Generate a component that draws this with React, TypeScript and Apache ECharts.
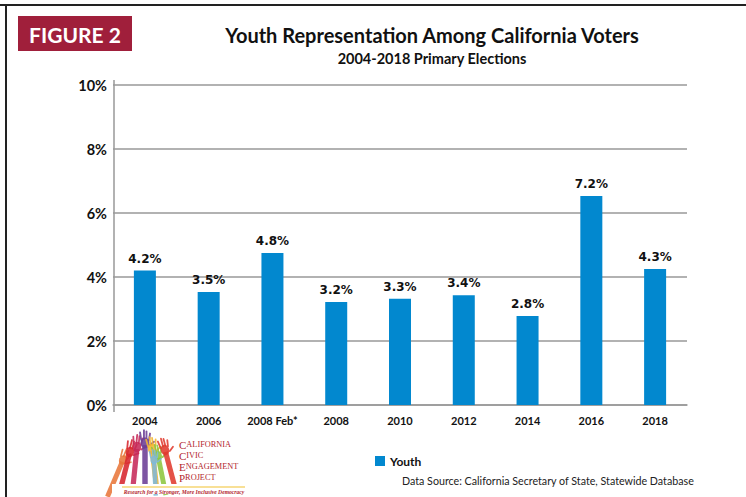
import React, { useEffect, useRef } from "react";
import * as echarts from "echarts";

const categories = ["2004", "2006", "2008 Feb*", "2008", "2010", "2012", "2014", "2016", "2018"];
const youthValues = [4.2, 3.53, 4.75, 3.22, 3.32, 3.43, 2.78, 6.53, 4.25];
const youthLabels = ["4.2%", "3.5%", "4.8%", "3.2%", "3.3%", "3.4%", "2.8%", "7.2%", "4.3%"];
const yTicks = [0, 2, 4, 6, 8, 10];
const logoWords = ["CALIFORNIA", "CIVIC", "ENGAGEMENT", "PROJECT"];

const FONT = "Lato, 'Open Sans', sans-serif";
const LABEL_FONT = "'DejaVu Sans', Verdana, sans-serif";
const BLUE = "#0288CF";

function hand(x: number, y: number, rot: number, color: string, s: number) {
  const st = { fill: color, opacity: 0.88 };
  return {
    type: "group",
    x,
    y,
    rotation: rot,
    scaleX: s,
    scaleY: s,
    silent: true,
    children: [
      { type: "rect", shape: { x: -2.6, y: 2, width: 5.2, height: 40 }, style: st },
      { type: "ellipse", shape: { cx: 0, cy: 0, rx: 4.2, ry: 5.2 }, style: st },
      { type: "rect", shape: { x: -4.4, y: -11, width: 1.8, height: 9, r: 0.9 }, rotation: 0.15, originX: -3.5, originY: -2, style: st },
      { type: "rect", shape: { x: -1.9, y: -13, width: 1.8, height: 10, r: 0.9 }, style: st },
      { type: "rect", shape: { x: 0.5, y: -12, width: 1.8, height: 9, r: 0.9 }, style: st },
      { type: "rect", shape: { x: 2.8, y: -10, width: 1.8, height: 8, r: 0.9 }, rotation: -0.15, originX: 3.5, originY: -2, style: st },
      { type: "rect", shape: { x: 3.2, y: -5, width: 1.8, height: 7, r: 0.9 }, rotation: -0.9, originX: 3.2, originY: 2, style: st },
    ],
  };
}

export default function App() {
  const ref = useRef<HTMLDivElement>(null);
  useEffect(() => {
    if (!ref.current) return;
    const chart = echarts.init(ref.current, undefined, { renderer: "svg" });
    const logoRed = "#B3262D";
    chart.setOption({
      animation: false,
      backgroundColor: "#ffffff",
      grid: { left: 113, right: 59, top: 85, bottom: 92 },
      legend: {
        data: ["Youth"],
        left: 370,
        top: 450,
        icon: "rect",
        itemWidth: 10,
        itemHeight: 10,
        itemGap: 6,
        textStyle: { fontFamily: FONT, fontWeight: "bold", fontSize: 12, color: "#111" },
      },
      xAxis: {
        type: "category",
        data: categories,
        axisLine: { show: true, lineStyle: { color: "#999", width: 1.5 } },
        axisTick: { show: false },
        axisLabel: { interval: 0, fontFamily: FONT, fontWeight: "bold", fontSize: 11, color: "#111", margin: 10 },
      },
      yAxis: {
        type: "value",
        min: yTicks[0],
        max: yTicks[yTicks.length - 1],
        interval: 2,
        axisLine: { show: false },
        axisTick: { show: false },
        splitLine: { show: true, lineStyle: { color: "#999", width: 1.5 } },
        axisLabel: {
          formatter: "{value}%",
          fontFamily: FONT,
          fontWeight: "bold",
          fontSize: 14.5,
          color: "#111",
          margin: 6,
        },
      },
      series: [
        {
          name: "Youth",
          type: "bar",
          data: youthValues,
          barWidth: 22,
          itemStyle: { color: BLUE },
          label: {
            show: true,
            position: "top",
            distance: 6,
            formatter: (p: any) => youthLabels[p.dataIndex],
            fontFamily: LABEL_FONT,
            fontWeight: "bold",
            fontSize: 12,
            color: "#111",
          },
        },
      ],
      graphic: [
        { type: "line", shape: { x1: 0, y1: 5, x2: 746, y2: 5 }, style: { stroke: "#222", lineWidth: 2 } },
        { type: "line", shape: { x1: 6, y1: 5, x2: 6, y2: 497 }, style: { stroke: "#222", lineWidth: 2 } },
        { type: "line", shape: { x1: 114, y1: 80, x2: 114, y2: 412 }, style: { stroke: "#999", lineWidth: 1.5 } },
        { type: "rect", shape: { x: 18, y: 16, width: 114, height: 35 }, style: { fill: "#A01F3B" } },
        {
          type: "text",
          x: 75,
          y: 34,
          style: { text: "FIGURE 2", fill: "#fff", font: `bold 21px ${FONT}`, align: "center", verticalAlign: "middle" },
        },
        {
          type: "text",
          x: 432,
          y: 35,
          style: { text: "Youth Representation Among California Voters", fill: "#111", font: `bold 20px ${FONT}`, align: "center", verticalAlign: "middle" },
        },
        {
          type: "text",
          x: 432,
          y: 58,
          style: { text: "2004-2018 Primary Elections", fill: "#111", font: `bold 14.5px ${FONT}`, align: "center", verticalAlign: "middle" },
        },
        {
          type: "text",
          x: 402,
          y: 480,
          style: { text: "Data Source: California Secretary of State, Statewide Database", fill: "#222", font: `10.7px ${FONT}`, align: "left", verticalAlign: "middle" },
        },
        // logo hands
        hand(123, 460, -0.4, "#E8763A", 0.95),
        hand(130, 452, -0.25, "#D7262E", 1.0),
        hand(137, 447, -0.1, "#C62A5A", 1.0),
        hand(145, 443, 0.0, "#6B3E95", 1.05),
        hand(152, 449, 0.12, "#F2B531", 1.0),
        hand(158, 456, 0.2, "#8DC63F", 0.95),
        hand(154, 460, 0.05, "#7FB8D8", 0.85),
        hand(165, 450, 0.26, "#E03A2E", 1.0),
        { type: "rect", shape: { x: 112, y: 484, width: 70, height: 10 }, style: { fill: "#fff" } },
        { type: "line", shape: { x1: 122, y1: 487, x2: 245, y2: 487 }, style: { stroke: "#F2C12E", lineWidth: 1.2 } },
        {
          type: "text",
          x: 184,
          y: 492,
          style: { text: "Research for a Stronger, More Inclusive Democracy", fill: logoRed, font: "italic bold 5.6px 'Liberation Serif', serif", align: "center", verticalAlign: "middle" },
        },
        ...logoWords.map((w, i) => ({
          type: "text",
          x: 179,
          y: 449 + i * 11,
          style: {
            text: `{b|${w[0]}}{s|${w.slice(1)}}`,
            verticalAlign: "bottom",
            rich: {
              b: { fontFamily: "'Liberation Serif', serif", fontSize: 11, lineHeight: 9, fill: logoRed },
              s: { fontFamily: "'Liberation Serif', serif", fontSize: 8.3, lineHeight: 9, fill: logoRed },
            },
          },
        })),
      ],
    });
    return () => chart.dispose();
  }, []);
  return <div ref={ref} style={{ position: "fixed", left: 0, top: 0, width: 746, height: 497 }} />;
}
